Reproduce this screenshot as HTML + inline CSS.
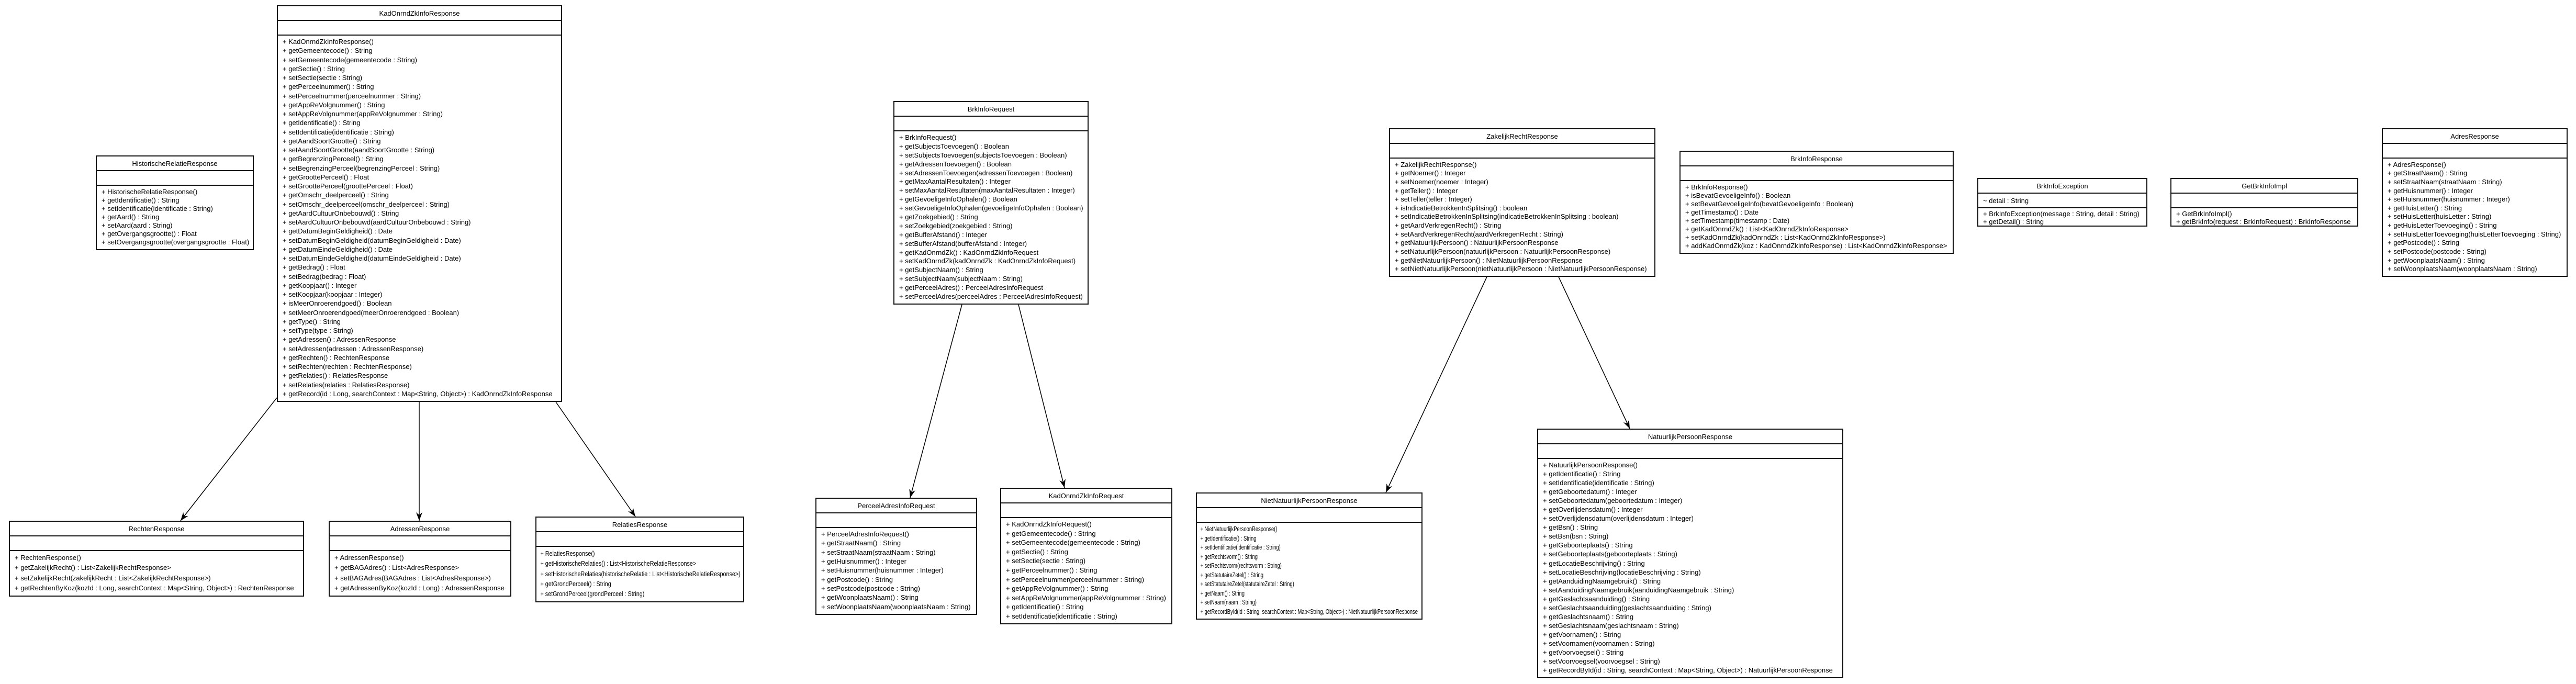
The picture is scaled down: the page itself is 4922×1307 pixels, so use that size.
<!DOCTYPE html>
<html><head><meta charset="utf-8">
<style>
html,body{margin:0;padding:0;background:#fff;}
body{width:4922px;height:1307px;position:relative;overflow:hidden;font-family:"Liberation Sans",Arial,sans-serif;font-size:13px;color:#000;}
.b{position:absolute;box-sizing:border-box;border:2px solid #111;background:#fff;display:flex;flex-direction:column;}
.t{height:26px;flex:0 0 26px;border-bottom:2px solid #111;display:flex;align-items:center;justify-content:center;white-space:nowrap;}
.a{height:26px;flex:0 0 26px;border-bottom:2px solid #111;display:flex;flex-direction:column;justify-content:center;padding-left:9px;white-space:nowrap;}
.m{flex:1;display:flex;flex-direction:column;padding:3px 0 5px 9px;white-space:nowrap;box-sizing:border-box;}
.m div{flex:1;display:flex;align-items:center;}
.s83{align-self:flex-start;width:120%;transform:scaleX(.83);transform-origin:left center;}
.s72{align-self:flex-start;width:138%;transform:scaleX(.72);transform-origin:left center;}
svg{position:absolute;left:0;top:0;}
</style></head><body>
<svg width="4922" height="1307">
<defs><marker id="ar" markerWidth="18" markerHeight="14" refX="16" refY="7" orient="auto" markerUnits="userSpaceOnUse">
<path d="M0,1 L16,7 L0,13 L5,7 Z" fill="#000"/></marker></defs>
<g stroke="#000" stroke-width="1.5" fill="none">
<line x1="529" y1="760" x2="345" y2="995" marker-end="url(#ar)"/>
<line x1="801" y1="768" x2="801" y2="995" marker-end="url(#ar)"/>
<line x1="1062" y1="768" x2="1214" y2="987" marker-end="url(#ar)"/>
<line x1="1838" y1="582" x2="1739" y2="951" marker-end="url(#ar)"/>
<line x1="1946" y1="582" x2="2034" y2="932" marker-end="url(#ar)"/>
<line x1="2841" y1="529" x2="2648" y2="941" marker-end="url(#ar)"/>
<line x1="2978" y1="529" x2="3114" y2="819" marker-end="url(#ar)"/>
</g></svg>

<div class="b" style="left:183px;top:297px;width:302px;height:181px"><div class="t">HistorischeRelatieResponse</div><div class="a"></div><div class="m">
<div>+ HistorischeRelatieResponse()</div><div>+ getIdentificatie() : String</div><div>+ setIdentificatie(identificatie : String)</div><div>+ getAard() : String</div><div>+ setAard(aard : String)</div><div>+ getOvergangsgrootte() : Float</div><div>+ setOvergangsgrootte(overgangsgrootte : Float)</div></div></div>

<div class="b" style="left:529px;top:10px;width:545px;height:758px"><div class="t">KadOnrndZkInfoResponse</div><div class="a"></div><div class="m">
<div>+ KadOnrndZkInfoResponse()</div><div>+ getGemeentecode() : String</div><div>+ setGemeentecode(gemeentecode : String)</div><div>+ getSectie() : String</div><div>+ setSectie(sectie : String)</div><div>+ getPerceelnummer() : String</div><div>+ setPerceelnummer(perceelnummer : String)</div><div>+ getAppReVolgnummer() : String</div><div>+ setAppReVolgnummer(appReVolgnummer : String)</div><div>+ getIdentificatie() : String</div><div>+ setIdentificatie(identificatie : String)</div><div>+ getAandSoortGrootte() : String</div><div>+ setAandSoortGrootte(aandSoortGrootte : String)</div><div>+ getBegrenzingPerceel() : String</div><div>+ setBegrenzingPerceel(begrenzingPerceel : String)</div><div>+ getGroottePerceel() : Float</div><div>+ setGroottePerceel(groottePerceel : Float)</div><div>+ getOmschr_deelperceel() : String</div><div>+ setOmschr_deelperceel(omschr_deelperceel : String)</div><div>+ getAardCultuurOnbebouwd() : String</div><div>+ setAardCultuurOnbebouwd(aardCultuurOnbebouwd : String)</div><div>+ getDatumBeginGeldigheid() : Date</div><div>+ setDatumBeginGeldigheid(datumBeginGeldigheid : Date)</div><div>+ getDatumEindeGeldigheid() : Date</div><div>+ setDatumEindeGeldigheid(datumEindeGeldigheid : Date)</div><div>+ getBedrag() : Float</div><div>+ setBedrag(bedrag : Float)</div><div>+ getKoopjaar() : Integer</div><div>+ setKoopjaar(koopjaar : Integer)</div><div>+ isMeerOnroerendgoed() : Boolean</div><div>+ setMeerOnroerendgoed(meerOnroerendgoed : Boolean)</div><div>+ getType() : String</div><div>+ setType(type : String)</div><div>+ getAdressen() : AdressenResponse</div><div>+ setAdressen(adressen : AdressenResponse)</div><div>+ getRechten() : RechtenResponse</div><div>+ setRechten(rechten : RechtenResponse)</div><div>+ getRelaties() : RelatiesResponse</div><div>+ setRelaties(relaties : RelatiesResponse)</div><div>+ getRecord(id : Long, searchContext : Map&lt;String, Object&gt;) : KadOnrndZkInfoResponse</div></div></div>

<div class="b" style="left:17px;top:995px;width:564px;height:145px"><div class="t">RechtenResponse</div><div class="a"></div><div class="m">
<div>+ RechtenResponse()</div><div>+ getZakelijkRecht() : List&lt;ZakelijkRechtResponse&gt;</div><div>+ setZakelijkRecht(zakelijkRecht : List&lt;ZakelijkRechtResponse&gt;)</div><div>+ getRechtenByKoz(kozId : Long, searchContext : Map&lt;String, Object&gt;) : RechtenResponse</div></div></div>

<div class="b" style="left:628px;top:995px;width:349px;height:145px"><div class="t">AdressenResponse</div><div class="a"></div><div class="m">
<div>+ AdressenResponse()</div><div>+ getBAGAdres() : List&lt;AdresResponse&gt;</div><div>+ setBAGAdres(BAGAdres : List&lt;AdresResponse&gt;)</div><div>+ getAdressenByKoz(kozId : Long) : AdressenResponse</div></div></div>

<div class="b" style="left:1023px;top:987px;width:399px;height:164px"><div class="t">RelatiesResponse</div><div class="a"></div><div class="m s83">
<div>+ RelatiesResponse()</div><div>+ getHistorischeRelaties() : List&lt;HistorischeRelatieResponse&gt;</div><div>+ setHistorischeRelaties(historischeRelatie : List&lt;HistorischeRelatieResponse&gt;)</div><div>+ getGrondPerceel() : String</div><div>+ setGrondPerceel(grondPerceel : String)</div></div></div>

<div class="b" style="left:1558px;top:951px;width:309px;height:224px"><div class="t">PerceelAdresInfoRequest</div><div class="a"></div><div class="m">
<div>+ PerceelAdresInfoRequest()</div><div>+ getStraatNaam() : String</div><div>+ setStraatNaam(straatNaam : String)</div><div>+ getHuisnummer() : Integer</div><div>+ setHuisnummer(huisnummer : Integer)</div><div>+ getPostcode() : String</div><div>+ setPostcode(postcode : String)</div><div>+ getWoonplaatsNaam() : String</div><div>+ setWoonplaatsNaam(woonplaatsNaam : String)</div></div></div>

<div class="b" style="left:1911px;top:932px;width:329px;height:261px"><div class="t">KadOnrndZkInfoRequest</div><div class="a"></div><div class="m">
<div>+ KadOnrndZkInfoRequest()</div><div>+ getGemeentecode() : String</div><div>+ setGemeentecode(gemeentecode : String)</div><div>+ getSectie() : String</div><div>+ setSectie(sectie : String)</div><div>+ getPerceelnummer() : String</div><div>+ setPerceelnummer(perceelnummer : String)</div><div>+ getAppReVolgnummer() : String</div><div>+ setAppReVolgnummer(appReVolgnummer : String)</div><div>+ getIdentificatie() : String</div><div>+ setIdentificatie(identificatie : String)</div></div></div>

<div class="b" style="left:2285px;top:941px;width:433px;height:243px"><div class="t">NietNatuurlijkPersoonResponse</div><div class="a"></div><div class="m s72">
<div>+ NietNatuurlijkPersoonResponse()</div><div>+ getIdentificatie() : String</div><div>+ setIdentificatie(identificatie : String)</div><div>+ getRechtsvorm() : String</div><div>+ setRechtsvorm(rechtsvorm : String)</div><div>+ getStatutaireZetel() : String</div><div>+ setStatutaireZetel(statutaireZetel : String)</div><div>+ getNaam() : String</div><div>+ setNaam(naam : String)</div><div>+ getRecordById(id : String, searchContext : Map&lt;String, Object&gt;) : NietNatuurlijkPersoonResponse</div></div></div>

<div class="b" style="left:1707px;top:193px;width:373px;height:389px"><div class="t">BrkInfoRequest</div><div class="a"></div><div class="m">
<div>+ BrkInfoRequest()</div><div>+ getSubjectsToevoegen() : Boolean</div><div>+ setSubjectsToevoegen(subjectsToevoegen : Boolean)</div><div>+ getAdressenToevoegen() : Boolean</div><div>+ setAdressenToevoegen(adressenToevoegen : Boolean)</div><div>+ getMaxAantalResultaten() : Integer</div><div>+ setMaxAantalResultaten(maxAantalResultaten : Integer)</div><div>+ getGevoeligeInfoOphalen() : Boolean</div><div>+ setGevoeligeInfoOphalen(gevoeligeInfoOphalen : Boolean)</div><div>+ getZoekgebied() : String</div><div>+ setZoekgebied(zoekgebied : String)</div><div>+ getBufferAfstand() : Integer</div><div>+ setBufferAfstand(bufferAfstand : Integer)</div><div>+ getKadOnrndZk() : KadOnrndZkInfoRequest</div><div>+ setKadOnrndZk(kadOnrndZk : KadOnrndZkInfoRequest)</div><div>+ getSubjectNaam() : String</div><div>+ setSubjectNaam(subjectNaam : String)</div><div>+ getPerceelAdres() : PerceelAdresInfoRequest</div><div>+ setPerceelAdres(perceelAdres : PerceelAdresInfoRequest)</div></div></div>

<div class="b" style="left:2654px;top:245px;width:509px;height:284px"><div class="t">ZakelijkRechtResponse</div><div class="a"></div><div class="m">
<div>+ ZakelijkRechtResponse()</div><div>+ getNoemer() : Integer</div><div>+ setNoemer(noemer : Integer)</div><div>+ getTeller() : Integer</div><div>+ setTeller(teller : Integer)</div><div>+ isIndicatieBetrokkenInSplitsing() : boolean</div><div>+ setIndicatieBetrokkenInSplitsing(indicatieBetrokkenInSplitsing : boolean)</div><div>+ getAardVerkregenRecht() : String</div><div>+ setAardVerkregenRecht(aardVerkregenRecht : String)</div><div>+ getNatuurlijkPersoon() : NatuurlijkPersoonResponse</div><div>+ setNatuurlijkPersoon(natuurlijkPersoon : NatuurlijkPersoonResponse)</div><div>+ getNietNatuurlijkPersoon() : NietNatuurlijkPersoonResponse</div><div>+ setNietNatuurlijkPersoon(nietNatuurlijkPersoon : NietNatuurlijkPersoonResponse)</div></div></div>

<div class="b" style="left:2937px;top:819px;width:585px;height:477px"><div class="t">NatuurlijkPersoonResponse</div><div class="a"></div><div class="m">
<div>+ NatuurlijkPersoonResponse()</div><div>+ getIdentificatie() : String</div><div>+ setIdentificatie(identificatie : String)</div><div>+ getGeboortedatum() : Integer</div><div>+ setGeboortedatum(geboortedatum : Integer)</div><div>+ getOverlijdensdatum() : Integer</div><div>+ setOverlijdensdatum(overlijdensdatum : Integer)</div><div>+ getBsn() : String</div><div>+ setBsn(bsn : String)</div><div>+ getGeboorteplaats() : String</div><div>+ setGeboorteplaats(geboorteplaats : String)</div><div>+ getLocatieBeschrijving() : String</div><div>+ setLocatieBeschrijving(locatieBeschrijving : String)</div><div>+ getAanduidingNaamgebruik() : String</div><div>+ setAanduidingNaamgebruik(aanduidingNaamgebruik : String)</div><div>+ getGeslachtsaanduiding() : String</div><div>+ setGeslachtsaanduiding(geslachtsaanduiding : String)</div><div>+ getGeslachtsnaam() : String</div><div>+ setGeslachtsnaam(geslachtsnaam : String)</div><div>+ getVoornamen() : String</div><div>+ setVoornamen(voornamen : String)</div><div>+ getVoorvoegsel() : String</div><div>+ setVoorvoegsel(voorvoegsel : String)</div><div>+ getRecordById(id : String, searchContext : Map&lt;String, Object&gt;) : NatuurlijkPersoonResponse</div></div></div>

<div class="b" style="left:3209px;top:288px;width:524px;height:197px"><div class="t">BrkInfoResponse</div><div class="a"></div><div class="m">
<div>+ BrkInfoResponse()</div><div>+ isBevatGevoeligeInfo() : Boolean</div><div>+ setBevatGevoeligeInfo(bevatGevoeligeInfo : Boolean)</div><div>+ getTimestamp() : Date</div><div>+ setTimestamp(timestamp : Date)</div><div>+ getKadOnrndZk() : List&lt;KadOnrndZkInfoResponse&gt;</div><div>+ setKadOnrndZk(kadOnrndZk : List&lt;KadOnrndZkInfoResponse&gt;)</div><div>+ addKadOnrndZk(koz : KadOnrndZkInfoResponse) : List&lt;KadOnrndZkInfoResponse&gt;</div></div></div>

<div class="b" style="left:3778px;top:340px;width:325px;height:93px"><div class="t">BrkInfoException</div><div class="a">~ detail : String</div><div class="m">
<div>+ BrkInfoException(message : String, detail : String)</div><div>+ getDetail() : String</div></div></div>

<div class="b" style="left:4147px;top:340px;width:359px;height:93px"><div class="t">GetBrkInfoImpl</div><div class="a"></div><div class="m">
<div>+ GetBrkInfoImpl()</div><div>+ getBrkInfo(request : BrkInfoRequest) : BrkInfoResponse</div></div></div>

<div class="b" style="left:4551px;top:245px;width:355px;height:284px"><div class="t">AdresResponse</div><div class="a"></div><div class="m">
<div>+ AdresResponse()</div><div>+ getStraatNaam() : String</div><div>+ setStraatNaam(straatNaam : String)</div><div>+ getHuisnummer() : Integer</div><div>+ setHuisnummer(huisnummer : Integer)</div><div>+ getHuisLetter() : String</div><div>+ setHuisLetter(huisLetter : String)</div><div>+ getHuisLetterToevoeging() : String</div><div>+ setHuisLetterToevoeging(huisLetterToevoeging : String)</div><div>+ getPostcode() : String</div><div>+ setPostcode(postcode : String)</div><div>+ getWoonplaatsNaam() : String</div><div>+ setWoonplaatsNaam(woonplaatsNaam : String)</div></div></div>

</body></html>
